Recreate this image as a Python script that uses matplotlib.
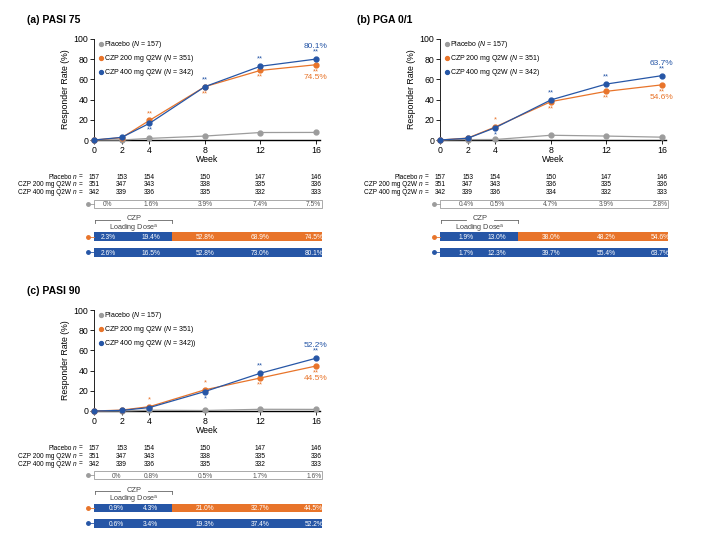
import matplotlib.pyplot as plt
from matplotlib.patches import Rectangle
from matplotlib.lines import Line2D
from matplotlib.transforms import blended_transform_factory

plt.rcParams['font.family'] = ['Liberation Sans', 'DejaVu Sans']
plt.rcParams['mathtext.fontset'] = 'custom'
plt.rcParams['mathtext.it'] = 'Liberation Sans:italic'
plt.rcParams['mathtext.rm'] = 'Liberation Sans'

W, H = 709, 550

weeks = [0, 2, 4, 8, 12, 16]

gray = '#9c9c9c'
orange = '#e8742a'
blue = '#2656a6'

# (a) PASI 75
pasi75_placebo = [0, 0, 1.6, 3.9, 7.4, 7.5]
pasi75_200 = [0, 2.3, 19.4, 52.8, 68.9, 74.5]
pasi75_400 = [0, 2.6, 16.5, 52.8, 73.0, 80.1]
pasi75_stars_200 = ['', '', '**', '**', '**', '**']
pasi75_stars_400 = ['', '', '**', '**', '**', '**']
pasi75_n_placebo = [157, 153, 154, 150, 147, 146]
pasi75_n_200 = [351, 347, 343, 338, 335, 336]
pasi75_n_400 = [342, 339, 336, 335, 332, 333]

# (b) PGA 0/1
pga_placebo = [0, 0.4, 0.5, 4.7, 3.9, 2.8]
pga_200 = [0, 1.9, 13.0, 38.0, 48.2, 54.6]
pga_400 = [0, 1.7, 12.3, 39.7, 55.4, 63.7]
pga_stars_200 = ['', '', '*', '**', '**', '**']
pga_stars_400 = ['', '', '*', '**', '**', '**']
pga_n_placebo = [157, 153, 154, 150, 147, 146]
pga_n_200 = [351, 347, 343, 336, 335, 336]
pga_n_400 = [342, 339, 336, 334, 332, 333]

# (c) PASI 90
pasi90_placebo = [0, 0, 0.8, 0.5, 1.7, 1.6]
pasi90_200 = [0, 0.9, 4.3, 21.0, 32.7, 44.5]
pasi90_400 = [0, 0.6, 3.4, 19.3, 37.4, 52.2]
pasi90_stars_200 = ['', '', '*', '*', '**', '**']
pasi90_stars_400 = ['', '', '', '*', '**', '**']
pasi90_n_placebo = [157, 153, 154, 150, 147, 146]
pasi90_n_200 = [351, 347, 343, 338, 335, 336]
pasi90_n_400 = [342, 339, 336, 335, 332, 333]

legend_labels = [r'Placebo ($N$ = 157)',
                 r'CZP 200 mg Q2W ($N$ = 351)',
                 r'CZP 400 mg Q2W ($N$ = 342)']
legend_labels_c = [r'Placebo ($N$ = 157)',
                   r'CZP 200 mg Q2W ($N$ = 351)',
                   r'CZP 400 mg Q2W ($N$ = 342))']
row_labels = ['Placebo', 'CZP 200 mg Q2W', 'CZP 400 mg Q2W']

fig = plt.figure(figsize=(W / 100, H / 100), dpi=100)


def fy(y):
    return 1 - y / H


def pct(v):
    return '0%' if v == 0 else '%.1f%%' % v


def draw_panel(x0, dy, title, title_x, placebo, s200, s400, st200, st400,
               n_pl, n_200, n_400, labels, first_x):
    ax = fig.add_axes([x0 / W, fy(140 + dy), 226 / W, 101 / H])
    ax.set_xlim(0, 16.3)
    ax.set_ylim(0, 100)
    for s in ['top', 'right']:
        ax.spines[s].set_visible(False)
    ax.spines['left'].set_linewidth(0.6)
    ax.spines['bottom'].set_linewidth(1.0)
    ax.set_xticks(weeks)
    ax.set_yticks([0, 20, 40, 60, 80, 100])
    ax.tick_params(labelsize=6.3, length=3, width=0.6, pad=1)
    ax.set_xlabel('Week', fontsize=6.3, labelpad=0)
    ax.set_ylabel('Responder Rate (%)', fontsize=6.3, labelpad=3)

    ax.plot(weeks, placebo, '-o', color=gray, lw=0.9, ms=3.5, clip_on=False, zorder=3)
    ax.plot(weeks, s200, '-o', color=orange, lw=0.9, ms=3.5, clip_on=False, zorder=4)
    ax.plot(weeks, s400, '-o', color=blue, lw=0.9, ms=3.5, clip_on=False, zorder=5)

    # significance marks: higher series above, lower below
    for i, w in enumerate(weeks):
        blue_up = s400[i] >= s200[i]
        for vals, st, col, up in [(s400, st400, blue, blue_up),
                                  (s200, st200, orange, not blue_up)]:
            if not st[i]:
                continue
            off = 2.5 if up else -2.5
            ax.annotate(st[i], (w, vals[i]), xytext=(0, off), textcoords='offset points',
                        ha='center', va='bottom' if up else 'top', fontsize=5.5, color=col)
            if i == len(weeks) - 1:
                ax.annotate(pct(vals[i]), (w, vals[i]), xytext=(0, 6.5 if up else -6.5),
                            textcoords='offset points', ha='center',
                            va='bottom' if up else 'top', fontsize=6, color=col)

    handles = [Line2D([], [], marker='o', ls='', color=c, ms=2.8) for c in (gray, orange, blue)]
    ax.legend(handles, labels, loc='upper left', bbox_to_anchor=(0.02, 1.0), frameon=False,
              fontsize=5.0, handletextpad=0.05, borderaxespad=0, labelspacing=0.45,
              handlelength=0.8, borderpad=0)

    fig.text(title_x / W, fy(20 + dy), title, fontweight='bold', fontsize=7.5, va='center')

    tr = blended_transform_factory(ax.transData, fig.transFigure)

    # n table (label, italic n, "=" as separate pieces)
    fs = 4.7
    for y, lab, ns in zip([176, 184, 192], row_labels, [n_pl, n_200, n_400]):
        yy = fy(y + dy)
        ax.annotate('=', (-0.85, yy), xycoords=tr, xytext=(0, 0), textcoords='offset points',
                    ha='right', va='center_baseline', fontsize=fs)
        ax.annotate('n', (-0.85, yy), xycoords=tr, xytext=(-4.0, 0), textcoords='offset points',
                    ha='right', va='center_baseline', fontsize=fs, style='italic')
        ax.annotate(lab, (-0.85, yy), xycoords=tr, xytext=(-7.8, 0), textcoords='offset points',
                    ha='right', va='center_baseline', fontsize=fs)
        for w, n in zip(weeks, ns):
            ax.text(w, yy, str(n), ha='center', va='center_baseline', fontsize=4.8,
                    transform=tr)

    text_x = [first_x, 4.1, 8, 12, 15.85]
    end = 16.45
    split = 5.65

    # placebo box
    ax.add_patch(Rectangle((0, fy(208 + dy)), end, 8 / H, transform=tr, fc='white',
                           ec=gray, lw=0.6, clip_on=False))
    yc = fy(204 + dy)
    ax.plot([-0.45, 0], [yc, yc], color=gray, lw=0.6, transform=tr, clip_on=False)
    ax.plot([-0.45], [yc], 'o', color=gray, ms=2.5, transform=tr, clip_on=False)
    for x, v in zip(text_x, placebo[1:]):
        ax.text(x, yc, pct(v), ha='center', va='center_baseline', fontsize=4.8, color='#555555',
                transform=tr)

    # loading dose bracket
    yb = fy(220 + dy)
    tick = 2.5 / H
    for xa, xb in [(0.1, 1.9), (3.9, 5.6)]:
        ax.plot([xa, xb], [yb, yb], color='#666666', lw=0.6, transform=tr, clip_on=False)
    for xe in (0.1, 5.6):
        ax.plot([xe, xe], [yb, yb - tick], color='#666666', lw=0.6, transform=tr, clip_on=False)
    ax.text(2.9, fy(218 + dy), 'CZP', ha='center', va='center_baseline', fontsize=5.4,
            color='#444444', transform=tr)
    ax.text(2.9, fy(226.5 + dy), r'Loading Dose$^{\rm a}$', ha='center', va='center_baseline',
            fontsize=5.2, color='#444444', transform=tr)

    # treatment bars
    for top, vals, col in [(232.5, s200, orange), (248, s400, blue)]:
        ax.add_patch(Rectangle((0, fy(top + 8.5 + dy)), split, 8.5 / H, transform=tr,
                               fc=blue, ec='none', clip_on=False))
        ax.add_patch(Rectangle((split, fy(top + 8.5 + dy)), end - split, 8.5 / H, transform=tr,
                               fc=col, ec='none', clip_on=False))
        ym = fy(top + 4.25 + dy)
        ax.plot([-0.45, 0], [ym, ym], color=col, lw=0.6, transform=tr, clip_on=False)
        ax.plot([-0.45], [ym], 'o', color=col, ms=2.5, transform=tr, clip_on=False)
        for x, v in zip(text_x, vals[1:]):
            ax.text(x, ym, pct(v), ha='center', va='center_baseline', fontsize=4.8,
                    color='white', transform=tr)
    return ax


draw_panel(94, 0, '(a) PASI 75', 27, pasi75_placebo, pasi75_200, pasi75_400,
           pasi75_stars_200, pasi75_stars_400, pasi75_n_placebo, pasi75_n_200, pasi75_n_400,
           legend_labels, 1.0)
draw_panel(440, 0, '(b) PGA 0/1', 357, pga_placebo, pga_200, pga_400,
           pga_stars_200, pga_stars_400, pga_n_placebo, pga_n_200, pga_n_400,
           legend_labels, 1.9)
draw_panel(94, 271, '(c) PASI 90', 27, pasi90_placebo, pasi90_200, pasi90_400,
           pasi90_stars_200, pasi90_stars_400, pasi90_n_placebo, pasi90_n_200, pasi90_n_400,
           legend_labels_c, 1.6)

fig.savefig('out.png', dpi=100)
